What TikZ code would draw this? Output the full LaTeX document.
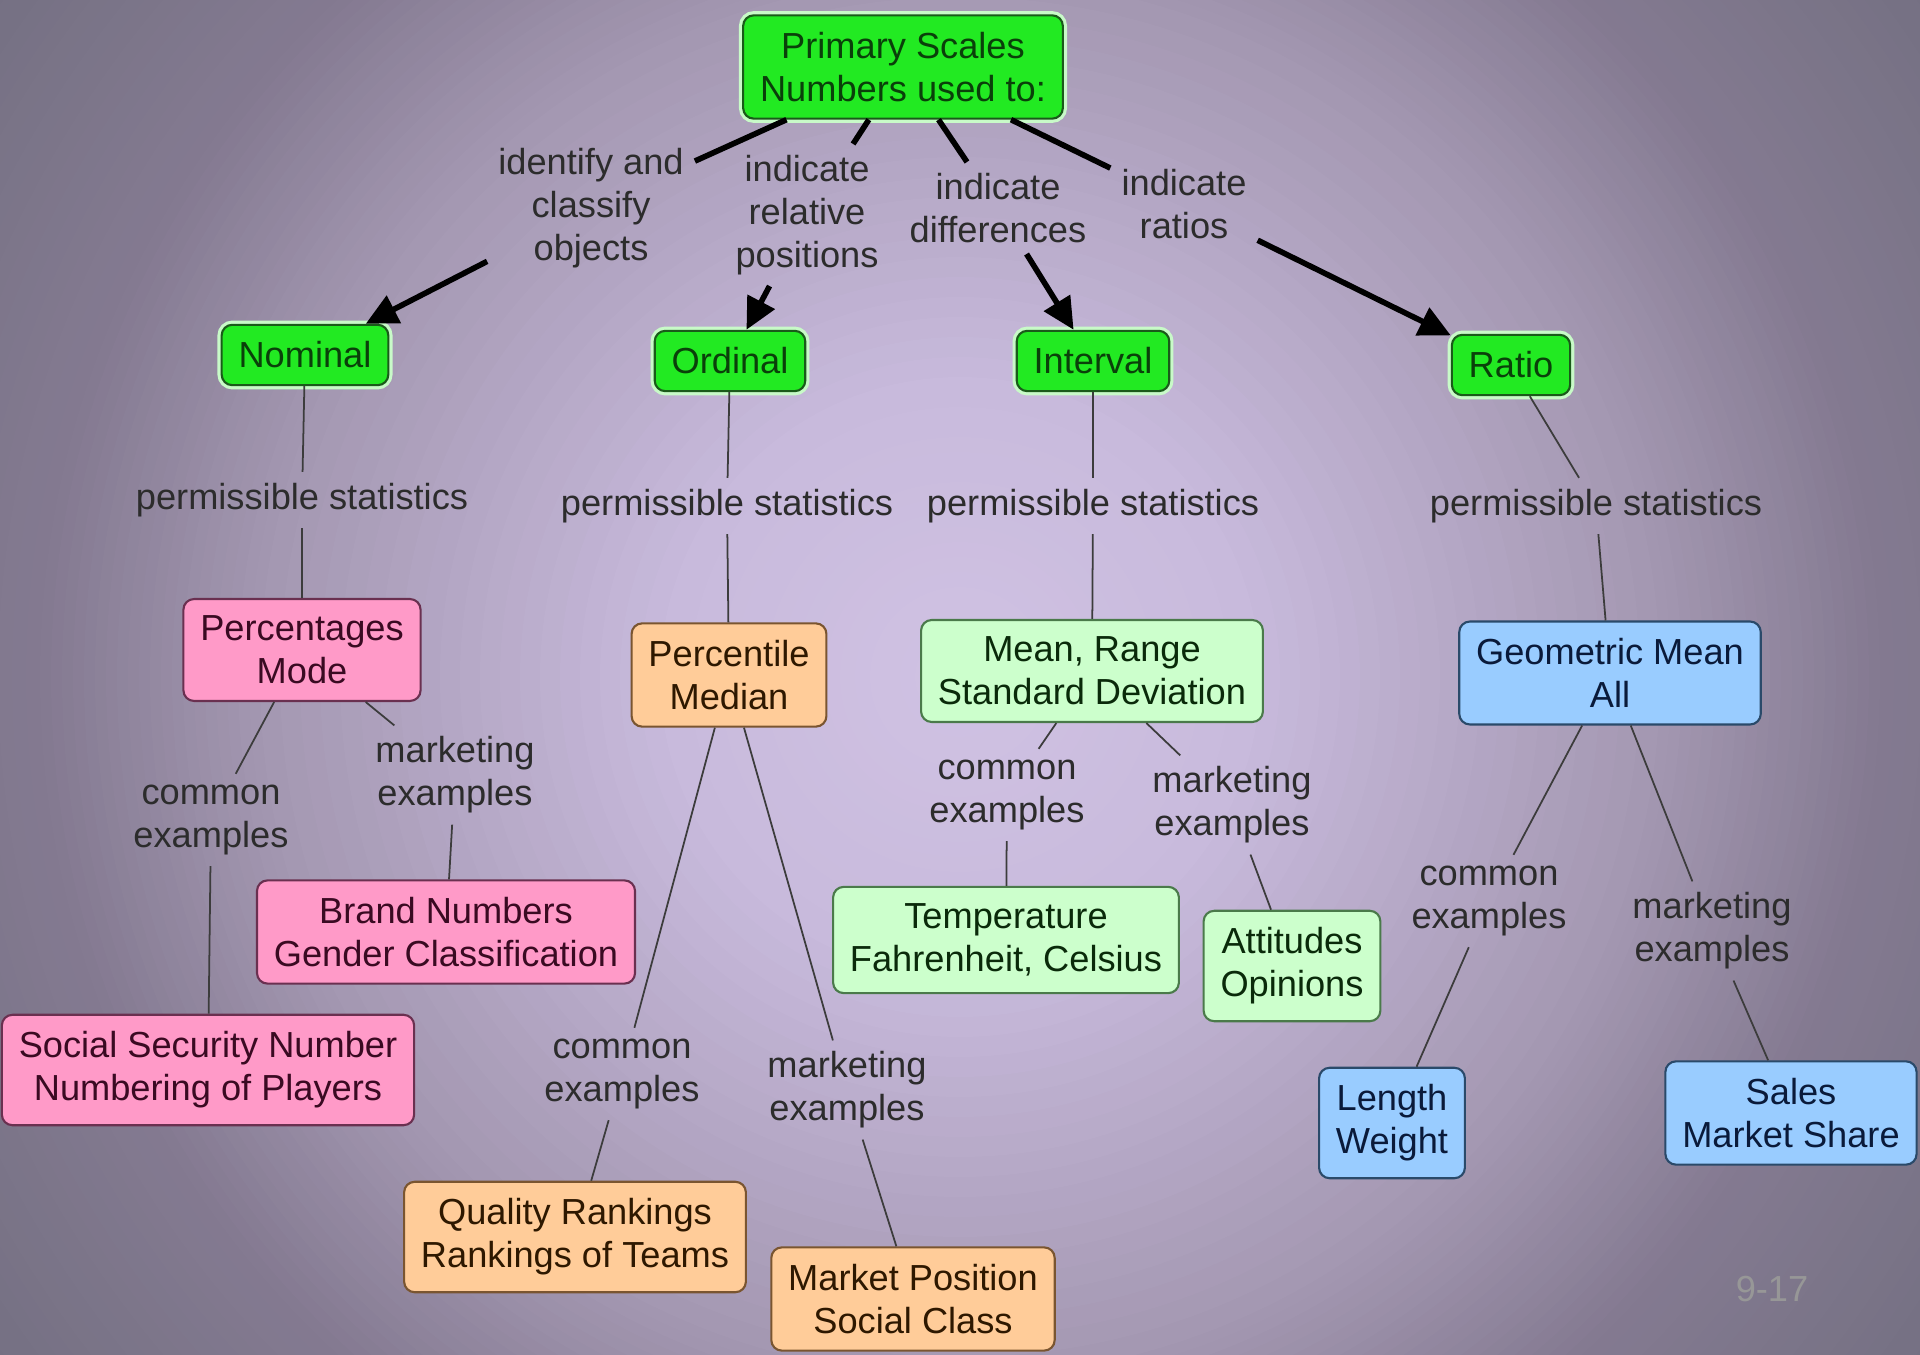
\documentclass[tikz,border=0pt]{standalone}
\usepackage{fontspec}
\setmainfont{Liberation Sans}
\usetikzlibrary{arrows.meta}
\definecolor{bgA}{HTML}{D0C2E3}
\definecolor{bgB}{HTML}{C8BADC}
\definecolor{bgC}{HTML}{A498B2}
\definecolor{bgD}{HTML}{847A91}
\definecolor{bgE}{HTML}{747082}
\definecolor{grfill}{HTML}{22EA22}
\definecolor{grline}{HTML}{1A5A1A}
\definecolor{grtext}{HTML}{0A400A}
\definecolor{pkfill}{HTML}{FF9AC8}
\definecolor{pkline}{HTML}{6A3050}
\definecolor{pktext}{HTML}{3A0A22}
\definecolor{orfill}{HTML}{FFCC99}
\definecolor{orline}{HTML}{7A5530}
\definecolor{ortext}{HTML}{2E1800}
\definecolor{lgfill}{HTML}{CCFFCC}
\definecolor{lgline}{HTML}{4A7A4A}
\definecolor{lgtext}{HTML}{0A2A0A}
\definecolor{blfill}{HTML}{99CCFF}
\definecolor{blline}{HTML}{2A4A6A}
\definecolor{bltext}{HTML}{0A1A3A}
\definecolor{lbltext}{HTML}{2C2C2C}
\definecolor{conline}{HTML}{3C3C3C}
\definecolor{pagegray}{HTML}{979797}

\begin{document}
\begin{tikzpicture}[x=0.01cm,y=-0.01cm,
  every node/.style={font=\fontsize{10.3}{12.2}\selectfont, align=center},
  box/.style={draw, rounded corners=3pt, line width=0.6pt, inner sep=4.8pt},
  scalebox/.style={box, fill=grfill, draw=grline, text=grtext,
    preaction={draw=white!75!grfill, line width=2.4pt}},
  pinkbox/.style={box, fill=pkfill, draw=pkline, text=pktext},
  orangebox/.style={box, fill=orfill, draw=orline, text=ortext},
  mintbox/.style={box, fill=lgfill, draw=lgline, text=lgtext},
  bluebox/.style={box, fill=blfill, draw=blline, text=bltext},
  lbl/.style={inner sep=3pt, text=lbltext},
  heavy/.style={line width=1.6pt, black},
  con/.style={line width=0.5pt, conline},
  >={Triangle[length=9pt,width=8.5pt]}]
\useasboundingbox (0,0) rectangle (1920,1355);
\begin{scope}
\clip (0,0) rectangle (1920,1355);
\fill[bgE] (0,0) rectangle (1920,1355);
\foreach \ra/\rb/\ca/\cb in {920/1200/bgD/bgE, 700/920/bgC/bgD, 300/700/bgB/bgC, 0/300/bgA/bgB}{
  \foreach \k in {0,...,19}{
    \pgfmathsetmacro\rr{\rb-\k*(\rb-\ra)/20}
    \pgfmathtruncatemacro\pp{100-5*\k}
    \fill[\cb!\pp!\ca] (960,677) circle (\rr);
  }
}
\end{scope}

\node[scalebox] (prim) at (903,67) {Primary Scales\\Numbers used to:};
\node[lbl] (identify) at (591,208) {identify and\\classify\\objects};
\node[lbl] (relative) at (807,215) {indicate\\relative\\positions};
\node[lbl] (differ) at (998,208) {indicate\\differences};
\node[lbl] (ratios) at (1184,204) {indicate\\ratios};
\node[scalebox] (nominal) at (305,355) {Nominal};
\node[scalebox] (ordinal) at (730,361) {Ordinal};
\node[scalebox] (interval) at (1093,361) {Interval};
\node[scalebox] (ratio) at (1511,365) {Ratio};

\draw[heavy] (prim) -- (identify);
\draw[heavy] (prim) -- (relative);
\draw[heavy] (prim) -- (differ);
\draw[heavy] (prim) -- (ratios);
\draw[heavy,->] (identify) -- (nominal);
\draw[heavy,->] (relative) -- (ordinal);
\draw[heavy,->] (differ) -- (interval);
\draw[heavy,->] (ratios) -- (ratio);

\node[lbl] (permnom) at (302,500) {permissible statistics};
\node[lbl] (permord) at (727,506) {permissible statistics};
\node[lbl] (permint) at (1093,506) {permissible statistics};
\node[lbl] (permrat) at (1596,506) {permissible statistics};
\node[pinkbox] (statnom) at (302,650) {Percentages\\Mode};
\node[orangebox] (statord) at (729,675) {Percentile\\Median};
\node[mintbox] (statint) at (1092,671) {Mean, Range\\Standard Deviation};
\node[bluebox] (statrat) at (1610,673) {Geometric Mean\\All};

\draw[con] (nominal) -- (permnom) -- (statnom);
\draw[con] (ordinal) -- (permord) -- (statord);
\draw[con] (interval) -- (permint) -- (statint);
\draw[con] (ratio) -- (permrat) -- (statrat);

\node[lbl] (comnom) at (211,820) {common\\examples};
\node[lbl] (mktnom) at (455,775) {marketing\\examples};
\node[pinkbox] (brand) at (446,932) {Brand Numbers\\Gender Classification};
\node[pinkbox] (social) at (208,1070) {Social Security Number\\Numbering of Players};
\draw[con] (statnom) -- (comnom) -- (social);
\draw[con] (statnom) -- (mktnom) -- (brand);

\node[lbl] (comord) at (622,1074) {common\\examples};
\node[lbl] (mktord) at (847,1090) {marketing\\examples};
\node[orangebox] (quality) at (575,1237) {Quality Rankings\\Rankings of Teams};
\node[orangebox] (market) at (913,1299) {Market Position\\Social Class};
\draw[con] (statord) -- (comord) -- (quality);
\draw[con] (statord) -- (mktord) -- (market);

\node[lbl] (comint) at (1007,795) {common\\examples};
\node[lbl] (mktint) at (1232,805) {marketing\\examples};
\node[mintbox] (temp) at (1006,940) {Temperature\\Fahrenheit, Celsius};
\node[mintbox] (attit) at (1292,966) {Attitudes\\Opinions};
\draw[con] (statint) -- (comint) -- (temp);
\draw[con] (statint) -- (mktint) -- (attit);

\node[lbl] (comrat) at (1489,901) {common\\examples};
\node[lbl] (mktrat) at (1712,931) {marketing\\examples};
\node[bluebox] (length) at (1392,1123) {Length\\Weight};
\node[bluebox] (sales) at (1791,1113) {Sales\\Market Share};
\draw[con] (statrat) -- (comrat) -- (length);
\draw[con] (statrat) -- (mktrat) -- (sales);

\node[text=pagegray] (slideno) at (1772,1289) {9-17};
\end{tikzpicture}
\end{document}
